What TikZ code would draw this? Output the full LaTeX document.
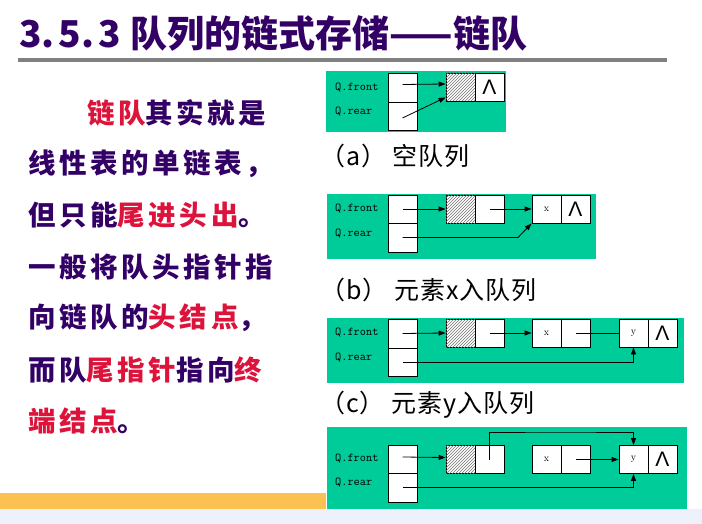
\documentclass[tikz,border=0pt]{standalone}
\usepackage{fontspec}
\usetikzlibrary{arrows.meta,patterns,calc}
\newfontfamily\cjk{Noto Sans CJK SC}
\newfontfamily\cjkbody[LetterSpace=13]{Noto Sans CJK SC}
\newfontfamily\cjklab[LetterSpace=4]{Noto Sans CJK SC}
\newfontfamily\lsans{Liberation Sans}
\definecolor{ttl}{RGB}{51,0,102}
\definecolor{hl}{RGB}{220,20,60}
\definecolor{pnl}{RGB}{0,204,153}
\definecolor{bar}{RGB}{251,194,82}
\definecolor{band}{RGB}{237,241,249}
\tikzset{
  cell/.style={draw, fill=white, minimum width=29pt, minimum height=28pt, inner sep=0pt, line width=0.8pt},
  tcell/.style={cell, minimum height=29pt},
  hatch/.style={cell, postaction={pattern=north east lines, pattern color=black!55}},
  arr/.style={line width=0.8pt, -{Triangle[length=7pt,width=5pt]}},
  plain/.style={line width=0.8pt},
  qlab/.style={font=\ttfamily\fontsize{12}{12}\selectfont, anchor=west, inner sep=0pt},
  elab/.style={font=\rmfamily\fontsize{10}{10}\selectfont},
  nil/.style={font=\lsans\fontsize{21}{21}\selectfont},
  body/.style={font=\cjkbody\bfseries\fontsize{27.5}{27.5}\selectfont, text=ttl, anchor=west, inner sep=0pt},
  caplab/.style={font=\cjklab\fontsize{25}{25}\selectfont, anchor=west, inner sep=0pt},
  panel/.style={fill=pnl, draw=none}
}
\begin{document}
\begin{tikzpicture}[x=1pt,y=-1pt]
\useasboundingbox (0,0) rectangle (702,524);
% title
\node[anchor=west, inner sep=0pt, text=ttl, font=\cjk\bfseries\fontsize{37}{37}\selectfont] (title) at (19,33) {3.\hspace{4pt}5.\hspace{4pt}3\hspace{10pt}队列的链式存储——链队};
\fill[black!50] (18,58.5) rectangle (667,62);
% left text
\node[body] (l1) at (87,113) {\textcolor{hl}{链队}其实就是};
\node[body] (l2) at (28,164) {线性表的单链表，};
\node[body] (l3) at (28,215) {但只能\textcolor{hl}{尾进头出}。};
\node[body] (l4) at (28,267) {一般将队头指针指};
\node[body] (l5) at (28,318) {向链队的\textcolor{hl}{头结点}，};
\node[body] (l6) at (28,370) {而队\textcolor{hl}{尾指针}指向\textcolor{hl}{终}};
\node[body] (l7) at (28,421) {\textcolor{hl}{端结点}。};
% bottom decorations
\fill[bar] (0,493) rectangle (326,509);
% ---- panel a
\fill[panel] (326,71) rectangle (506,132);
\node[qlab] (qfa) at (335,88) {Q.front};
\node[qlab] (qra) at (335,112) {Q.rear};
\node[tcell] (fa) at (402.5,87.5) {};
\node[cell] (ra) at (402.5,116) {};
\node[hatch] (ha) at (460.5,87) {};
\node[cell] (na) at (489.5,87) {};
\node[nil] at (na) {Λ};
\draw[arr] ([yshift=3pt]fa.center) -- ([yshift=3pt]ha.west);
\draw[arr] ([yshift=-2pt]ra.center) -- ([yshift=4pt]ha.south west);
\node[caplab] (ca) at (320,156) {（a） 空队列};
% ---- panel b
\fill[panel] (327,194) rectangle (596,259);
\node[qlab] (qfb) at (335,209) {Q.front};
\node[qlab] (qrb) at (335,234) {Q.rear};
\node[cell] (fb) at (402.5,209) {};
\node[tcell] (rb) at (402.5,237.5) {};
\node[hatch] (hb) at (460.5,209) {};
\node[cell] (hnb) at (489.5,209) {};
\node[cell, elab] (xb) at (546.5,209) {x};
\node[cell] (nb) at (575.5,209) {};
\node[nil] at (nb) {Λ};
\coordinate (kb) at (518,237.5);
\draw[arr] (fb.center) -- (hb.west);
\draw[arr] (hnb.center) -- (xb.west);
\draw[arr] (rb.center) -- (kb) -- (xb.south west);
\node[caplab] (cb) at (320,290) {（b） 元素x入队列};
% ---- panel c
\fill[panel] (327,318) rectangle (684,383);
\node[qlab] (qfc) at (335,333) {Q.front};
\node[qlab] (qrc) at (335,358) {Q.rear};
\node[tcell] (fc) at (402.5,333.5) {};
\node[cell] (rc) at (402.5,362) {};
\node[hatch] (hc) at (460.5,333) {};
\node[cell] (hnc) at (489.5,333) {};
\node[cell, elab] (xc) at (546.5,333) {x};
\node[cell] (xnc) at (575.5,333) {};
\node[cell, elab] (yc) at (633.5,333) {y};
\node[cell] (nc) at (662.5,333) {};
\node[nil] at (nc) {Λ};
\draw[arr] (fc.center) -- (hc.west);
\draw[arr] (hnc.center) -- (xc.west);
\draw[plain] (xnc.center) -- (yc.west);
\draw[arr] (rc.center) -| (yc.south);
\node[caplab] (cc) at (320,405) {（c） 元素y入队列};
% ---- panel d
\fill[panel] (327,427) rectangle (687,509);
\node[qlab] (qfd) at (335,459) {Q.front};
\node[qlab] (qrd) at (335,483) {Q.rear};
\node[cell] (fd) at (402.5,459) {};
\node[tcell] (rd) at (402.5,487.5) {};
\node[hatch] (hd) at (460.5,459.5) {};
\node[cell] (hnd) at (489.5,459.5) {};
\node[cell, elab] (xd) at (546.5,459.5) {x};
\node[cell] (xnd) at (575.5,459.5) {};
\node[cell, elab] (yd) at (633.5,459.5) {y};
\node[cell] (nd) at (662.5,459.5) {};
\node[nil] at (nd) {Λ};
\coordinate (dtop) at (560,432);
\draw[arr] ([yshift=2pt]fd.center) -- ([yshift=2pt]hd.west);
\draw[arr] (hnd.center) |- (dtop) -| (yd.north);
\draw[arr] (xnd.center) -- (yd.west);
\draw[arr] (rd.center) -| (yd.south);
\fill[band] (0,509) rectangle (702,524);
\end{tikzpicture}
\end{document}
